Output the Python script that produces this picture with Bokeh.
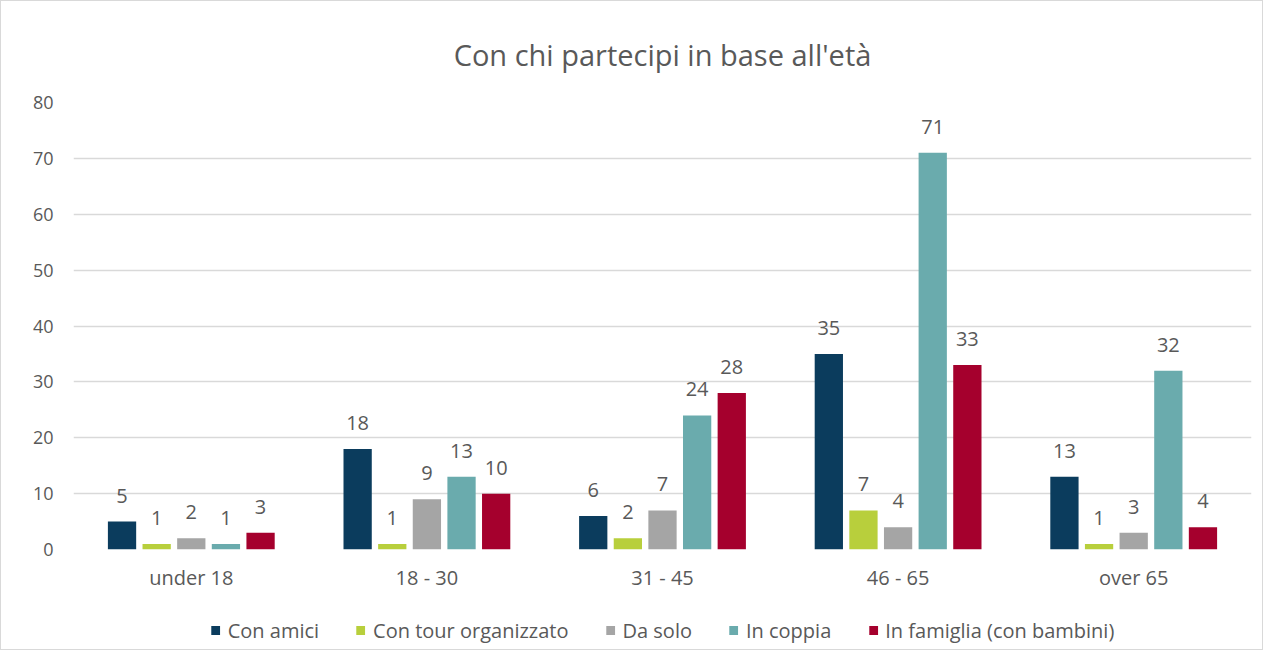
from bokeh.plotting import figure
from bokeh.layouts import column
from bokeh.models import (ColumnDataSource, FactorRange, Legend, LegendItem, LabelSet,
                          Range1d, Label)
from bokeh.transform import dodge
from bokeh.core.properties import value
from bokeh.embed import file_html
from bokeh.resources import INLINE

title_text = "Con chi partecipi in base all'età"
categories = ["under 18", "18 - 30", "31 - 45", "46 - 65", "over 65"]
series_names = ["Con amici", "Con tour organizzato", "Da solo", "In coppia", "In famiglia (con bambini)"]
con_amici = [5, 18, 6, 35, 13]
con_tour = [1, 1, 2, 7, 1]
da_solo = [2, 9, 7, 4, 3]
in_coppia = [1, 13, 24, 71, 32]
in_famiglia = [3, 10, 28, 33, 4]
y_ticks = [0, 10, 20, 30, 40, 50, 60, 70, 80]
colors = ["#0b3c5d", "#b8cf3c", "#a5a5a5", "#6aabad", "#a5002d"]

series_values = [con_amici, con_tour, da_solo, in_coppia, in_famiglia]
keys = ["s0", "s1", "s2", "s3", "s4"]

data = {"cat": categories}
for k, v in zip(keys, series_values):
    data[k] = v
    data[k + "_t"] = [str(x) for x in v]
source = ColumnDataSource(data)

FONT = "Open Sans"
TXT = "#595959"
W = 1261


def blank(height, x_range, y_range):
    f = figure(width=W, height=height, x_range=x_range, y_range=y_range,
               output_backend="svg", toolbar_location=None,
               x_axis_location=None, y_axis_location=None,
               min_border_left=0, min_border_right=0, min_border_top=0, min_border_bottom=0)
    f.outline_line_color = None
    f.xgrid.grid_line_color = None
    f.ygrid.grid_line_color = None
    return f


# ---- title strip
tf = blank(88, Range1d(0, 1), Range1d(0, 88))
tf.add_layout(Label(x=0.5, y=35, text=title_text, text_align="center", text_baseline="middle",
                    text_font=FONT, text_font_size="29px", text_color=TXT))

# ---- main chart
p = figure(x_range=FactorRange(*categories), y_range=Range1d(0, 80),
           width=W, height=522, output_backend="svg", toolbar_location=None,
           min_border_left=72, min_border_right=11, min_border_top=13, min_border_bottom=62)

offsets = [-0.294, -0.147, 0.0, 0.147, 0.294]
for k, off, col in zip(keys, offsets, colors):
    p.vbar(x=dodge("cat", off, range=p.x_range), top=k, width=0.12, source=source,
           fill_color=col, line_color=None)
    p.add_layout(LabelSet(x=dodge("cat", off, range=p.x_range), y=k, text=k + "_t", source=source,
                          text_align="center", text_baseline="middle", y_offset=26,
                          text_font=value(FONT), text_font_size="20px", text_color=TXT))

p.outline_line_color = None
p.xgrid.grid_line_color = None
p.ygrid.grid_line_color = "#d9d9d9"
p.ygrid.grid_line_width = 1.5
p.yaxis.ticker = y_ticks
p.yaxis.axis_line_color = None
p.yaxis.major_tick_line_color = None
p.yaxis.minor_tick_line_color = None
p.yaxis.major_label_text_font = FONT
p.yaxis.major_label_text_font_size = "18px"
p.yaxis.major_label_text_color = TXT
p.yaxis.major_label_standoff = 14

p.xaxis.axis_line_color = None
p.xaxis.major_tick_line_color = None
p.xaxis.major_label_text_font = FONT
p.xaxis.major_label_text_font_size = "20px"
p.xaxis.major_label_text_color = TXT
p.xaxis.major_label_standoff = 8
p.x_range.range_padding = 0
p.x_range.group_padding = 0

# ---- legend strip (zero-height bars, used only for the legend swatches)
lf = blank(38, FactorRange(*categories), Range1d(0, 100))
items = []
for k, col, name in zip(keys, colors, series_names):
    r = lf.vbar(x="cat", top=k, bottom=k, width=0.1, source=source,
                fill_color=col, line_color=None)
    items.append(LegendItem(label=name, renderers=[r]))
legend = Legend(items=items, orientation="horizontal", location="center",
                border_line_color=None, background_fill_alpha=0,
                label_text_font=FONT, label_text_font_size="20px", label_text_color=TXT,
                glyph_width=11, glyph_height=11, spacing=36, label_standoff=7,
                margin=0, padding=0)
lf.add_layout(legend, "center")

layout = column(tf, p, lf, spacing=0, styles={"border": "1px solid #d9d9d9"})

open("out.html", "w").write(file_html(layout, INLINE))
